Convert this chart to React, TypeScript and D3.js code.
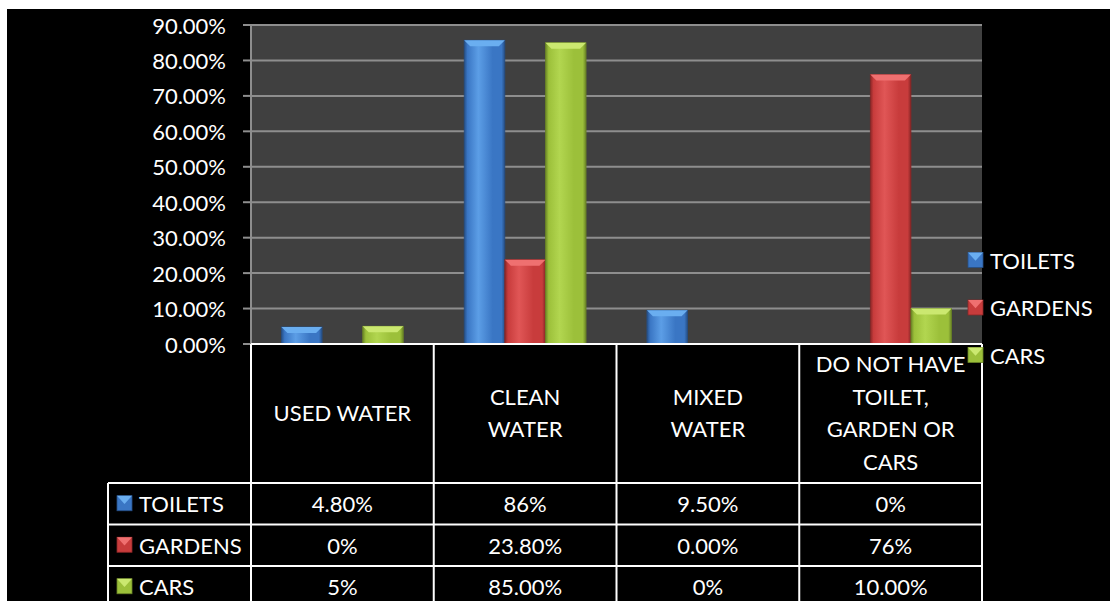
import React from "react";
import * as d3 from "d3";

const categories = ["USED WATER", "CLEAN WATER", "MIXED WATER", "DO NOT HAVE TOILET, GARDEN OR CARS"];
const categoryLines = [["USED WATER"], ["CLEAN", "WATER"], ["MIXED", "WATER"], ["DO NOT HAVE", "TOILET,", "GARDEN OR", "CARS"]];
const seriesNames = ["TOILETS", "GARDENS", "CARS"];
const toilets = [0.048, 0.857, 0.095, 0];
const gardens = [0, 0.238, 0, 0.76];
const cars = [0.05, 0.85, 0, 0.1];
const toiletsLabels = ["4.80%", "86%", "9.50%", "0%"];
const gardensLabels = ["0%", "23.80%", "0.00%", "76%"];
const carsLabels = ["5%", "85.00%", "0%", "10.00%"];
const yTicks = [0, 0.1, 0.2, 0.3, 0.4, 0.5, 0.6, 0.7, 0.8, 0.9];

const seriesValues = [toilets, gardens, cars];
const seriesLabels = [toiletsLabels, gardensLabels, carsLabels];
const colors = [
  { base: "#3a76c4", light: "#5c9ee6", dark: "#264f86", top: "#6aaef0" },
  { base: "#c83c3c", light: "#e05656", dark: "#8a2626", top: "#ef7070" },
  { base: "#9cc03a", light: "#b2d650", dark: "#6a8426", top: "#cbe870" },
];

const W = 1110;
const H = 601;
const FONT = "Lato, 'Open Sans', sans-serif";

export default function App() {
  const plotLeft = 251;
  const plotRight = 982;
  const plotTop = 25;
  const plotBottom = 344;
  const x = d3.scaleBand<string>().domain(categories).range([plotLeft, plotRight]).paddingInner(0).paddingOuter(0);
  const xs = d3.scaleBand<string>().domain(seriesNames).range([0, x.bandwidth()]).paddingInner(0).paddingOuter(0.75);
  const y = d3.scaleLinear().domain([0, 0.9]).range([plotBottom, plotTop]);
  const fmt = d3.format(".2%");

  const headerBottom = 483;
  const rowH = 41.5;
  const tableLeft = 108;
  const fs = 22;
  const lineH = 32.5;

  const bars: any[] = [];
  seriesValues.forEach((vals, si) => {
    vals.forEach((v, ci) => {
      if (v <= 0) return;
      const bx = (x(categories[ci]) as number) + (xs(seriesNames[si]) as number);
      const bw = xs.bandwidth();
      const by = y(v);
      const bh = y(0) - by;
      bars.push({ si, ci, bx, bw, by, bh });
    });
  });

  const legendIcon = (si: number, ix: number, iy: number, s: number, key: string) => (
    <g key={key}>
      <rect x={ix} y={iy} width={s} height={s} fill={colors[si].base} stroke={colors[si].dark} strokeWidth={0.8} />
      <polygon points={`${ix},${iy} ${ix + s},${iy} ${ix + s / 2},${iy + s * 0.55}`} fill={colors[si].top} />
    </g>
  );

  return (
    <svg width={W} height={H} style={{ position: "absolute", left: 0, top: 0, display: "block" }} fontFamily={FONT}>
      <defs>
        {colors.map((c, i) => (
          <linearGradient key={i} id={`g${i}`} x1="0" x2="1" y1="0" y2="0">
            <stop offset="0" stopColor={c.dark} />
            <stop offset="0.08" stopColor={c.base} />
            <stop offset="0.35" stopColor={c.light} />
            <stop offset="0.7" stopColor={c.base} />
            <stop offset="0.92" stopColor={c.base} />
            <stop offset="1" stopColor={c.dark} />
          </linearGradient>
        ))}
      </defs>
      <rect x={0} y={0} width={W} height={H} fill="#ffffff" />
      <rect x={7} y={9} width={W - 7} height={H - 9} fill="#000000" />
      <rect x={plotLeft} y={plotTop} width={plotRight - plotLeft} height={plotBottom - plotTop} fill="#404040" />
      {yTicks.map((t) => (
        <g key={t}>
          {t > 0 && <line x1={plotLeft} x2={plotRight} y1={y(t)} y2={y(t)} stroke="#8e8e8e" strokeWidth={2} />}
          <line x1={243} x2={plotLeft} y1={y(t)} y2={y(t)} stroke="#8e8e8e" strokeWidth={2} />
          <text x={226} y={y(t)} textAnchor="end" dominantBaseline="central" fill="#ffffff" fontSize={fs}>
            {fmt(t)}
          </text>
        </g>
      ))}
      <line x1={plotLeft} x2={plotLeft} y1={plotTop} y2={plotBottom} stroke="#8e8e8e" strokeWidth={2} />
      {bars.map((b, i) => {
        const bev = Math.min(6, b.bh / 2, b.bw / 4);
        return (
          <g key={i}>
            <rect x={b.bx} y={b.by} width={b.bw} height={b.bh} fill={`url(#g${b.si})`} />
            <rect x={b.bx} y={b.by} width={b.bw} height={b.bh} fill="none" stroke={colors[b.si].dark} strokeWidth={0.8} />
            <polygon
              points={`${b.bx},${b.by} ${b.bx + b.bw},${b.by} ${b.bx + b.bw - bev},${b.by + bev} ${b.bx + bev},${b.by + bev}`}
              fill={colors[b.si].top}
            />
          </g>
        );
      })}
      {/* table */}
      <g stroke="#ffffff" strokeWidth={2}>
        <line x1={plotLeft} x2={plotRight} y1={plotBottom} y2={plotBottom} />
        {categories.map((c) => (
          <line key={c} x1={x(c) as number} x2={x(c) as number} y1={plotBottom} y2={H} />
        ))}
        <line x1={plotRight} x2={plotRight} y1={plotBottom} y2={H} />
        <line x1={tableLeft} x2={tableLeft} y1={headerBottom} y2={H} />
        {seriesNames.map((s, i) => (
          <line key={s} x1={tableLeft} x2={plotRight} y1={headerBottom + i * rowH} y2={headerBottom + i * rowH} />
        ))}
      </g>
      {categoryLines.map((lines, ci) => {
        const cx = (x(categories[ci]) as number) + x.bandwidth() / 2;
        const mid = (plotBottom + headerBottom) / 2 - 1;
        return lines.map((ln, li) => (
          <text
            key={`${ci}-${li}`}
            x={cx}
            y={mid + (li - (lines.length - 1) / 2) * lineH}
            textAnchor="middle"
            dominantBaseline="central"
            fill="#ffffff"
            fontSize={fs}
          >
            {ln}
          </text>
        ));
      })}
      {seriesNames.map((s, si) => {
        const cy = headerBottom + si * rowH + rowH / 2;
        return (
          <g key={s}>
            {legendIcon(si, 117, cy - 8, 15, `ti${si}`)}
            <text x={139} y={cy} dominantBaseline="central" fill="#ffffff" fontSize={fs}>
              {s}
            </text>
            {seriesLabels[si].map((lab, ci) => (
              <text
                key={ci}
                x={(x(categories[ci]) as number) + x.bandwidth() / 2}
                y={cy}
                textAnchor="middle"
                dominantBaseline="central"
                fill="#ffffff"
                fontSize={fs}
              >
                {lab}
              </text>
            ))}
          </g>
        );
      })}
      {/* legend */}
      {seriesNames.map((s, si) => {
        const cy = 260 + si * 47.5;
        return (
          <g key={`lg${s}`}>
            {legendIcon(si, 968, cy - 7.5, 15, `li${si}`)}
            <text x={990} y={cy} dominantBaseline="central" fill="#ffffff" fontSize={fs}>
              {s}
            </text>
          </g>
        );
      })}
    </svg>
  );
}
